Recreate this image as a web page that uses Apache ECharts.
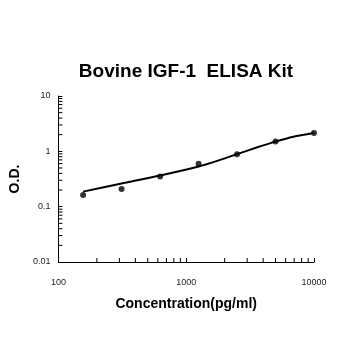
<!DOCTYPE html>
<html>
<head>
<meta charset="utf-8">
<script src="https://cdn.jsdelivr.net/npm/echarts@6/dist/echarts.min.js"></script>
<style>
  html, body { margin: 0; padding: 0; background: #fff; }
  #main { width: 350px; height: 350px; }
</style>
</head>
<body>
<div id="main"></div>
<script>
// standard points (concentration pg/ml, O.D.)
var concentrations = [156, 312, 625, 1250, 2500, 5000, 10000];
var odValues = [0.163, 0.209, 0.35, 0.594, 0.89, 1.5, 2.14];
// fitted curve
var curveX = [156, 312, 625, 1250, 1750, 2500, 3550, 5000, 6900, 10000];
var curveY = [0.187, 0.262, 0.365, 0.531, 0.673, 0.89, 1.17, 1.5, 1.83, 2.14];
// minor tick positions
var minorTicksX = [200, 300, 400, 500, 600, 700, 800, 900,
                   2000, 3000, 4000, 5000, 6000, 7000, 8000, 9000];
var minorTicksY = [0.02, 0.03, 0.04, 0.05, 0.06, 0.07, 0.08, 0.09,
                   0.2, 0.3, 0.4, 0.5, 0.6, 0.7, 0.8, 0.9,
                   2, 3, 4, 5, 6, 7, 8, 9];

var chart = echarts.init(document.getElementById('main'), null, { renderer: 'canvas' });
var font = 'Liberation Sans, Arial, sans-serif';

var pts = concentrations.map(function (c, i) { return [c, odValues[i]]; });
var curve = curveX.map(function (c, i) { return [c, curveY[i]]; });
var minorX = minorTicksX.map(function (v) { return [v, 0.01]; });
var minorY = minorTicksY.map(function (v) { return [100, v]; });

function tickRenderer(dir) {
  return function (params, api) {
    var p = api.coord([api.value(0), api.value(1)]);
    var shape = dir === 'x'
      ? { x1: p[0], y1: p[1], x2: p[0], y2: p[1] - 4 }
      : { x1: p[0], y1: p[1], x2: p[0] + 4, y2: p[1] };
    return { type: 'line', shape: shape, style: { stroke: '#000', lineWidth: 1 } };
  };
}

var option = {
  animation: false,
  title: {
    text: 'Bovine IGF-1  ELISA Kit',
    left: 181,
    top: 57,
    textAlign: 'center',
    textStyle: { fontFamily: font, fontSize: 19, fontWeight: 'bold', color: '#000' }
  },
  grid: { left: 52, right: 36, top: 96, bottom: 88 },
  xAxis: {
    type: 'log',
    min: 100,
    max: 10000,
    logBase: 10,
    name: 'Concentration(pg/ml)',
    nameLocation: 'middle',
    nameGap: 35,
    nameTextStyle: { fontFamily: font, fontSize: 14, fontWeight: 'bold', color: '#000' },
    axisLine: { show: true, lineStyle: { color: '#000', width: 1 } },
    axisTick: { show: true, inside: true, length: 4, lineStyle: { color: '#000' } },
    axisLabel: {
      fontFamily: font, fontSize: 9, color: '#222', margin: 16,
      formatter: function (v) { return String(Math.round(v)); }
    },
    splitLine: { show: false }
  },
  yAxis: {
    type: 'log',
    min: 0.01,
    max: 10,
    logBase: 10,
    name: 'O.D.',
    nameLocation: 'middle',
    nameGap: 27,
    nameTextStyle: { fontFamily: font, fontSize: 14, fontWeight: 'bold', color: '#000' },
    axisLine: { show: true, lineStyle: { color: '#000', width: 1 } },
    axisTick: { show: true, inside: true, length: 4, lineStyle: { color: '#000' } },
    axisLabel: {
      fontFamily: font, fontSize: 9, color: '#222', margin: 8,
      formatter: function (v) { return String(+v.toPrecision(2)); }
    },
    splitLine: { show: false }
  },
  series: [
    {
      name: 'curve',
      type: 'line',
      data: curve,
      smooth: 0.25,
      showSymbol: false,
      lineStyle: { color: '#000', width: 2 },
      silent: true
    },
    {
      name: 'standards',
      type: 'scatter',
      data: pts,
      symbolSize: 6,
      itemStyle: { color: '#000' }
    },
    {
      type: 'custom',
      data: minorX,
      renderItem: tickRenderer('x'),
      clip: false,
      silent: true
    },
    {
      type: 'custom',
      data: minorY,
      renderItem: tickRenderer('y'),
      clip: false,
      silent: true
    }
  ]
};

chart.setOption(option);
window.addEventListener('resize', chart.resize);
</script>
</body>
</html>
